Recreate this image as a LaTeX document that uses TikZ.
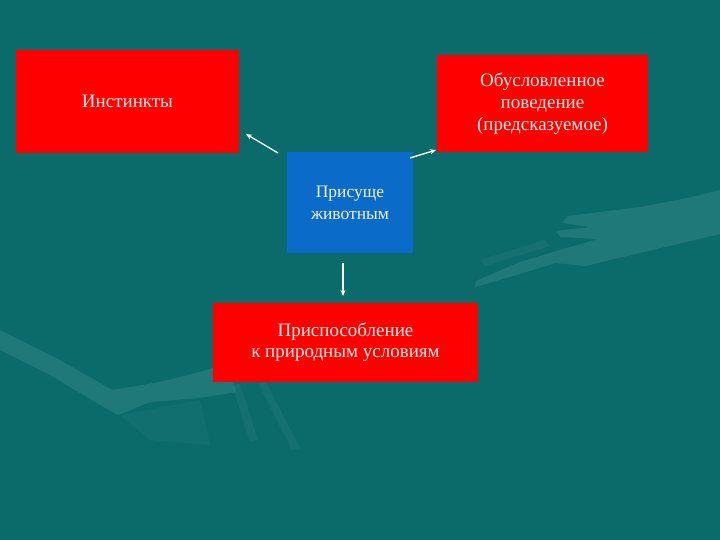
\documentclass[tikz,border=0pt]{standalone}
\usepackage{fontspec}
\setmainfont{Liberation Serif}
\usetikzlibrary{arrows.meta}
\definecolor{bg}{HTML}{0B6A6A}
\definecolor{hand}{HTML}{2A8080}
\definecolor{boxred}{HTML}{FF0000}
\definecolor{boxblue}{HTML}{0A6CC8}
\definecolor{txt}{HTML}{F6EEE6}
\begin{document}
\begin{tikzpicture}[x=1pt,y=-1pt,
  redbox/.style={fill=boxred,draw=none,inner sep=0pt,text=txt,align=center,font=\fontsize{19}{22}\selectfont},
  bluebox/.style={fill=boxblue,draw=none,inner sep=0pt,text=txt,align=center,font=\fontsize{17.5}{22}\selectfont},
  arr/.style={draw=white,line width=1.3pt,-{Stealth[length=6pt,width=5pt]}}]
\useasboundingbox (0,0) rectangle (720,540);
\fill[bg] (0,0) rectangle (720,540);
% faint hands in the background
\fill[hand,opacity=0.7] (720,190) -- (683,199) -- (640,207) -- (600,212) -- (568,216) -- (562,223) -- (590,227) -- (556,231) -- (560,237) -- (598,239) -- (560,250) -- (520,262) -- (476,281) -- (475,287) -- (530,271) -- (555,263) -- (585,266) -- (640,253) -- (720,234) -- cycle;
\fill[hand,opacity=0.35] (480,260) -- (545,240) -- (550,246) -- (485,266) -- cycle;
\fill[hand,opacity=0.7] (0,330) -- (4,332) -- (60,360) -- (112,390) -- (160,382) -- (200,372) -- (212,368) -- (232,378) -- (236,392) -- (200,398) -- (150,402) -- (118,415) -- (100,405) -- (50,375) -- (0,350) -- cycle;
\fill[hand,opacity=0.35] (232,385) -- (240,384) -- (258,440) -- (250,442) -- cycle;
\fill[hand,opacity=0.35] (258,383) -- (266,382) -- (300,448) -- (292,450) -- cycle;
\fill[hand,opacity=0.25] (120,415) -- (200,400) -- (210,445) -- (150,440) -- cycle;
% boxes
\node[redbox,minimum width=223pt,minimum height=103pt] (inst) at (127.5,101.5) {Инстинкты};
\node[redbox,minimum width=211pt,minimum height=97pt] (cond) at (542.5,103.5) {Обусловленное\\поведение\\(предсказуемое)};
\node[bluebox,minimum width=126pt,minimum height=101pt] (anim) at (350,202.5) {Присуще\\животным};
\node[redbox,minimum width=265pt,minimum height=79pt,font=\fontsize{19}{21}\selectfont] (adapt) at (345.5,342.5) {Приспособление\\к природным условиям};
% arrow ends
\coordinate (a1s) at (278,153);
\coordinate (a1e) at (246,134);
\coordinate (a2s) at (410,158);
\coordinate (a2e) at (436,150);
\coordinate (a3s) at (343,263);
\coordinate (a3e) at (343,296);
\draw[arr] (a1s) -- (a1e);
\draw[arr] (a2s) -- (a2e);
\draw[arr] (a3s) -- (a3e);
\end{tikzpicture}
\end{document}
